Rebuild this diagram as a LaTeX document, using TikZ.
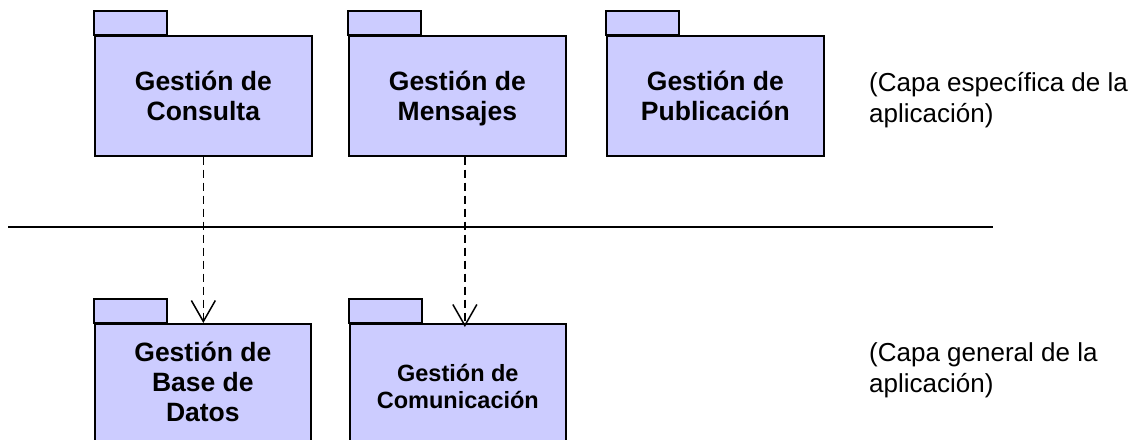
\documentclass[tikz,border=0pt]{standalone}
\usepackage{fontspec}
\setmainfont{Liberation Sans}
\usetikzlibrary{arrows.meta,calc}
\definecolor{pkgfill}{HTML}{CCCCFF}
\begin{document}
\begin{tikzpicture}[x=1pt,y=-1pt,
  pkgbody/.style={draw=black, fill=pkgfill, line width=1.7pt, minimum width=217pt, minimum height=120pt,
    anchor=north west, inner sep=0pt, align=center, font=\bfseries\fontsize{26.5}{30}\selectfont, text depth=0pt},
  pkgtab/.style={draw=black, fill=pkgfill, line width=1.7pt},
  dep/.style={draw=black, line width=1.5pt, dash pattern=on 8pt off 5pt,
    -{Straight Barb[length=21pt,width=24pt,line width=1.5pt]}},
  sepline/.style={draw=black, line width=2pt},
  note/.style={anchor=north west, inner sep=0pt, align=left, font=\fontsize{26}{31}\selectfont}]
\path[use as bounding box, clip] (0,0) rectangle (1140,439);

% top layer packages
\node[pkgbody] (cons) at (94,35) {Gestión de\\Consulta};
\node[pkgbody] (msg) at (348,35) {Gestión de\\Mensajes};
\node[pkgbody] (pub) at (606,35) {Gestión de\\Publicación};

% bottom layer packages
\node[pkgbody, minimum width=216pt, minimum height=130pt, text depth=15pt] (bd) at (94,323) {Gestión de\\Base de\\Datos};
\node[pkgbody, minimum width=216pt, minimum height=130pt, text depth=5pt,
  font=\bfseries\fontsize{23.5}{27}\selectfont] (com) at (349,323) {Gestión de\\Comunicación};

% tabs
\foreach \n in {cons,msg,pub,bd,com}
  \draw[pkgtab] (\n.north west) rectangle ++(73,-24);

% separator
\coordinate (sepL) at (8,227);
\coordinate (sepR) at (993,227);
\draw[sepline] (sepL) -- (sepR);

% dependencies
\draw[dep] (cons.south) -- (cons.south |- bd.north);
\coordinate (m1) at ($(msg.south)+(7.5,0)$);
\draw[dep, shorten >=-4pt] (m1) -- (m1 |- com.north);

% layer labels
\node[note] (lay1) at (869,72.5) {(Capa específica de la\\aplicación)};
\node[note] (lay2) at (869,342.5) {(Capa general de la\\aplicación)};
\end{tikzpicture}
\end{document}
